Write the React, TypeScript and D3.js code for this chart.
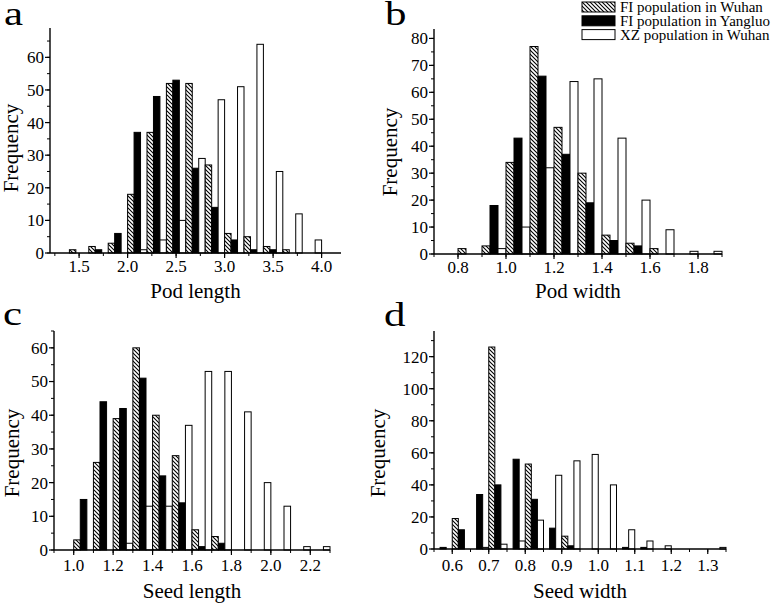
import React from 'react';
import * as d3 from 'd3';

// ---------- data ----------
const seriesNames = ['FI population in Wuhan', 'FI population in Yangluo', 'XZ population in Wuhan'];

const podLengthBins = [1.4, 1.6, 1.8, 2.0, 2.2, 2.4, 2.6, 2.8, 3.0, 3.2, 3.4, 3.6, 3.8];
const podLengthFIWuhan = [1, 2, 3, 18, 37, 52, 52, 27, 6, 5, 2, 1, 0];
const podLengthFIYangluo = [0, 1, 6, 37, 48, 53, 26, 14, 4, 1, 1, 0, 0];
const podLengthXZWuhan = [0, 0, 0, 1, 4, 10, 29, 47, 51, 64, 25, 12, 4];
const podLengthXTicks = ['1.5', '2.0', '2.5', '3.0', '3.5', '4.0'];
const podLengthYTicks = ['0', '10', '20', '30', '40', '50', '60'];

const podWidthBins = [0.8, 0.9, 1.0, 1.1, 1.2, 1.3, 1.4, 1.5, 1.6, 1.7, 1.8];
const podWidthFIWuhan = [2, 3, 34, 77, 47, 30, 7, 4, 2, 0, 0];
const podWidthFIYangluo = [0, 18, 43, 66, 37, 19, 5, 3, 0, 0, 0];
const podWidthXZWuhan = [0, 2, 10, 32, 64, 65, 43, 20, 9, 1, 1];
const podWidthXTicks = ['0.8', '1.0', '1.2', '1.4', '1.6', '1.8'];
const podWidthYTicks = ['0', '10', '20', '30', '40', '50', '60', '70', '80'];

const seedLengthBins = [1.0, 1.1, 1.2, 1.3, 1.4, 1.5, 1.6, 1.7, 1.8, 1.9, 2.0, 2.1, 2.2];
const seedLengthFIWuhan = [3, 26, 39, 60, 40, 28, 6, 4, 0, 0, 0, 0, 0];
const seedLengthFIYangluo = [15, 44, 42, 51, 22, 14, 1, 2, 0, 0, 0, 0, 0];
const seedLengthXZWuhan = [0, 0, 2, 13, 13, 37, 53, 53, 41, 20, 13, 1, 1];
const seedLengthXTicks = ['1.0', '1.2', '1.4', '1.6', '1.8', '2.0', '2.2'];
const seedLengthYTicks = ['0', '10', '20', '30', '40', '50', '60'];

const seedWidthBins = [0.55, 0.6, 0.65, 0.7, 0.75, 0.8, 0.85, 0.9, 0.95, 1.0, 1.05, 1.1, 1.15, 1.2, 1.25, 1.3];
const seedWidthFIWuhan = [0, 19, 0, 126, 0, 53, 0, 8, 0, 0, 0, 0, 0, 0, 0, 0];
const seedWidthFIYangluo = [1, 12, 34, 40, 56, 31, 13, 2, 0, 0, 1, 1, 0, 0, 0, 0];
const seedWidthXZWuhan = [0, 0, 1, 3, 5, 18, 46, 55, 59, 40, 12, 5, 2, 0, 0, 1];
const seedWidthXTicks = ['0.6', '0.7', '0.8', '0.9', '1.0', '1.1', '1.2', '1.3'];
const seedWidthYTicks = ['0', '20', '40', '60', '80', '100', '120'];

const FONT = '"Liberation Serif", "Times New Roman", Times, serif';

type PanelCfg = {
  letter: string;
  xTitle: string;
  bins: number[];
  binWidth: number;
  series: number[][];
  xDomain: [number, number];
  xRange: [number, number];
  yDomain: [number, number];
  yRange: [number, number];
  xTicks: string[];
  xMinorStep: number;
  yTicks: string[];
  yMinorStep: number;
  letterPos: [number, number];
  yTitlePos: [number, number];
  xTitleY: number;
  xLabelY: number;
};

const panels: PanelCfg[] = [
  {
    letter: 'a', xTitle: 'Pod length', bins: podLengthBins, binWidth: 0.2,
    series: [podLengthFIWuhan, podLengthFIYangluo, podLengthXZWuhan],
    xDomain: [1.2, 4.2], xRange: [50, 341], yDomain: [0, 69], yRange: [253, 28],
    xTicks: podLengthXTicks, xMinorStep: 0.25, yTicks: podLengthYTicks, yMinorStep: 5,
    letterPos: [4, 25], yTitlePos: [18, 148], xTitleY: 298, xLabelY: 272,
  },
  {
    letter: 'b', xTitle: 'Pod width', bins: podWidthBins, binWidth: 0.1,
    series: [podWidthFIWuhan, podWidthFIYangluo, podWidthXZWuhan],
    xDomain: [0.7, 1.9], xRange: [434, 722], yDomain: [0, 83.5], yRange: [254, 29],
    xTicks: podWidthXTicks, xMinorStep: 0.1, yTicks: podWidthYTicks, yMinorStep: 5,
    letterPos: [385, 25], yTitlePos: [397, 152], xTitleY: 298, xLabelY: 273,
  },
  {
    letter: 'c', xTitle: 'Seed length', bins: seedLengthBins, binWidth: 0.1,
    series: [seedLengthFIWuhan, seedLengthFIYangluo, seedLengthXZWuhan],
    xDomain: [0.9, 2.3], xRange: [54, 330], yDomain: [0, 65], yRange: [550, 331],
    xTicks: seedLengthXTicks, xMinorStep: 0.1, yTicks: seedLengthYTicks, yMinorStep: 5,
    letterPos: [3, 325], yTitlePos: [19, 453], xTitleY: 598, xLabelY: 571,
  },
  {
    letter: 'd', xTitle: 'Seed width', bins: seedWidthBins, binWidth: 0.05,
    series: [seedWidthFIWuhan, seedWidthFIYangluo, seedWidthXZWuhan],
    xDomain: [0.55, 1.35], xRange: [434, 726], yDomain: [0, 136], yRange: [549, 331],
    xTicks: seedWidthXTicks, xMinorStep: 0.05, yTicks: seedWidthYTicks, yMinorStep: 10,
    letterPos: [384, 326], yTitlePos: [385, 453], xTitleY: 598, xLabelY: 571,
  },
];

const fills = ['url(#hatch)', '#000', '#fff'];

function Panel({ p }: { p: PanelCfg }) {
  const x = d3.scaleLinear().domain(p.xDomain).range(p.xRange);
  const y = d3.scaleLinear().domain(p.yDomain).range(p.yRange);
  const x0 = p.xRange[0];
  const y0 = p.yRange[0];

  const xMinor = d3.range(
    Math.ceil(p.xDomain[0] / p.xMinorStep - 1e-6) * p.xMinorStep,
    p.xDomain[1] + 1e-6,
    p.xMinorStep
  );
  const yMinor = d3.range(0, p.yDomain[1] + 1e-6, p.yMinorStep);

  const bars: React.ReactNode[] = [];
  p.bins.forEach((b, i) => {
    const gx0 = x(b);
    const gx1 = x(b + p.binWidth);
    const bw = (gx1 - gx0) / 3;
    p.series.forEach((s, k) => {
      const v = s[i];
      if (!v) return;
      bars.push(
        <rect
          key={`${i}-${k}`}
          x={gx0 + k * bw}
          y={y(v)}
          width={bw}
          height={y0 - y(v)}
          fill={fills[k]}
          stroke="#000"
          strokeWidth={1}
        />
      );
    });
  });

  const xc = (p.xRange[0] + p.xRange[1]) / 2;

  return (
    <g>
      {bars}
      <line x1={x0} x2={p.xRange[1]} y1={y0} y2={y0} stroke="#000" strokeWidth={1.4} />
      <line x1={x0} x2={x0} y1={y0} y2={p.yRange[1]} stroke="#000" strokeWidth={1.4} />
      {xMinor.map((v, i) => (
        <line key={`xm${i}`} x1={x(v)} x2={x(v)} y1={y0} y2={y0 + 3} stroke="#000" strokeWidth={1} />
      ))}
      {p.xTicks.map((t) => (
        <g key={`xt${t}`}>
          <line x1={x(+t)} x2={x(+t)} y1={y0} y2={y0 + 5} stroke="#000" strokeWidth={1.2} />
          <text x={x(+t)} y={p.xLabelY} textAnchor="middle" fontSize={17} fontFamily={FONT}>
            {t}
          </text>
        </g>
      ))}
      {yMinor.map((v, i) => (
        <line key={`ym${i}`} x1={x0 - 3} x2={x0} y1={y(v)} y2={y(v)} stroke="#000" strokeWidth={1} />
      ))}
      {p.yTicks.map((t) => (
        <g key={`yt${t}`}>
          <line x1={x0 - 5} x2={x0} y1={y(+t)} y2={y(+t)} stroke="#000" strokeWidth={1.2} />
          <text x={x0 - 6} y={y(+t)} dy="0.35em" textAnchor="end" fontSize={17} fontFamily={FONT}>
            {t}
          </text>
        </g>
      ))}
      <text x={xc} y={p.xTitleY} textAnchor="middle" fontSize={21} fontFamily={FONT}>
        {p.xTitle}
      </text>
      <text
        transform={`translate(${p.yTitlePos[0]},${p.yTitlePos[1]}) rotate(-90)`}
        textAnchor="middle"
        fontSize={21}
        fontFamily={FONT}
      >
        Frequency
      </text>
      <text
        transform={`translate(${p.letterPos[0]},${p.letterPos[1]}) scale(1.3,1)`}
        fontSize={33}
        fontFamily={FONT}
      >
        {p.letter}
      </text>
    </g>
  );
}

export default function App() {
  return (
    <svg
      width={778}
      height={604}
      style={{ position: 'absolute', left: 0, top: 0, background: '#fff' }}
    >
      <defs>
        <pattern id="hatch" patternUnits="userSpaceOnUse" width={4} height={4}>
          <rect width={4} height={4} fill="#fff" />
          <path d="M-1,-1 L5,5 M-1,3 L1,5 M3,-1 L5,1" stroke="#000" strokeWidth={1.1} />
        </pattern>
      </defs>
      <rect width={778} height={604} fill="#fff" />
      {panels.map((p) => (
        <Panel key={p.letter} p={p} />
      ))}
      {seriesNames.map((name, k) => (
        <g key={name}>
          <rect x={582} y={2 + k * 13.8} width={33} height={10} fill={fills[k]} stroke="#000" strokeWidth={1} />
          <text x={620} y={12 + k * 14} fontSize={15} fontFamily={FONT}>
            {name}
          </text>
        </g>
      ))}
    </svg>
  );
}
